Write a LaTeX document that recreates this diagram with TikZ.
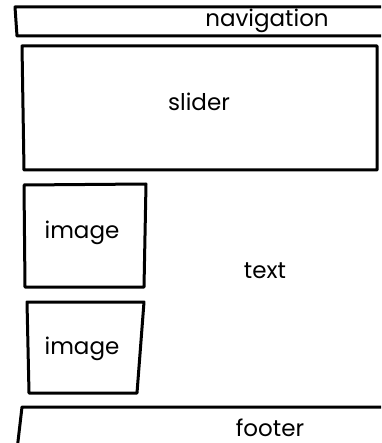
\documentclass[tikz,border=0pt]{standalone}
\usepackage{fontspec}
\setmainfont{Poppins}[Ligatures=NoCommon]
\begin{document}
\begin{tikzpicture}[x=1pt,y=-1pt,
  sketch/.style={draw=black,line width=3pt,line join=round,line cap=round},
  lbl/.style={font=\fontsize{23}{26}\selectfont,inner sep=0pt,anchor=base}]
\useasboundingbox (0,0) rectangle (381,443);
\fill[white] (0,0) rectangle (381,443);
\begin{scope}
\clip (0,0) rectangle (381,443);
% navigation
\draw[sketch] (390,7) -- (15,7) -- (17,36) -- (390,36);
\node[lbl] (nav) at (267,27) {navigation};
% slider
\draw[sketch] (22,46) -- (377,46) -- (377,170) -- (24,170) -- cycle;
\node[lbl] (slider) at (199,111) {slider};
% image 1
\draw[sketch] (24,185) -- (146,184) -- (144,287) -- (25,287) -- cycle;
\node[lbl] (img1) at (82,238) {image};
% image 2
\draw[sketch] (27,302) -- (144,302) -- (137,393) -- (29,393) -- cycle;
\node[lbl] (img2) at (82,354) {image};
% text
\node[lbl] (txt) at (265,278) {text};
% footer
\draw[sketch] (390,407) -- (22,407) -- (17,450);
\node[lbl] (foot) at (270,436) {footer};
\end{scope}
\end{tikzpicture}
\end{document}
